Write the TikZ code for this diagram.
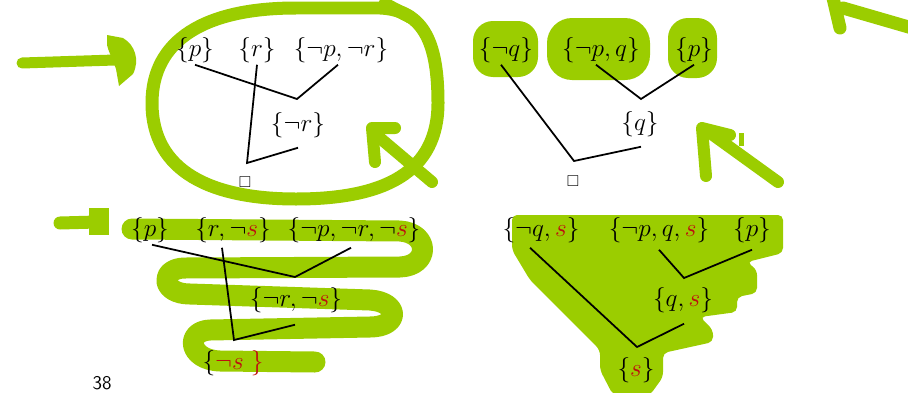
\documentclass[tikz,border=0pt]{standalone}
\usepackage{amssymb}
\usetikzlibrary{positioning,calc}
\definecolor{MarkerGreen}{RGB}{155,205,0}
\definecolor{LitRed}{RGB}{190,15,15}
\newcommand{\rs}{\textcolor{LitRed}{s}}

\begin{document}
\begin{tikzpicture}[x=0.02cm, y=-0.02cm,
  every node/.style={font=\fontsize{15}{18}\selectfont, inner sep=1pt},
  marker/.style={draw=MarkerGreen, line cap=round, line join=round, line width=0.26cm},
  blob/.style={fill=MarkerGreen, rounded corners=0.4cm},
  res/.style={line width=1pt},
  emptybox/.style={font=\fontsize{9}{10}\selectfont}]
  \useasboundingbox (0,0) rectangle (908,392);

  % highlighter marks
  \draw[marker] (296,8) .. controls (205,8) and (152,40) .. (152,103) .. controls (152,172) and (212,199) .. (296,199)
    .. controls (385,199) and (438,172) .. (438,103) .. controls (438,45) and (425,10) .. (380,8) -- cycle;
  \draw[marker] (385,4) -- (410,17);
  \draw[marker, line width=0.22cm] (22,63) -- (115,60);
  \fill[MarkerGreen] (107,35) -- (123,38) .. controls (135,45) and (140,60) .. (133,74) -- (119,86) -- (116,69)
    .. controls (112,58) and (108,50) .. (107,45) -- cycle;
  \draw[marker, line width=0.24cm] (432,182) -- (374,133);
  \draw[marker, line width=0.24cm] (395,128) -- (372,128) -- (375,162);
  \draw[marker, line width=0.24cm] (778,182) -- (706,130);
  \draw[marker, line width=0.24cm] (730,135) -- (702,128) -- (706,176);
  \draw[marker, line width=0.1cm, line cap=butt] (741,133) -- (741,146);
  \draw[marker] (912,28) -- (843,8);
  \draw[marker] (833,-2) -- (840,28);
  \draw[marker] (60,223) -- (97,222);
  \draw[marker, line width=0.4cm, line cap=butt] (99,208) -- (99,235);
  \fill[blob] (473,21) rectangle (538,77);
  \fill[blob, rounded corners=0.5cm] (547,18) rectangle (650,80);
  \fill[blob] (668,18) rectangle (717,78);
  \draw[marker, line width=0.42cm] (132,229) -- (400,231) .. controls (430,233) and (430,266) .. (400,267)
    -- (185,268) .. controls (160,268) and (160,294) .. (190,294) -- (370,300)
    .. controls (400,302) and (400,327) .. (370,327) -- (210,330)
    .. controls (185,331) and (188,360) .. (220,361) -- (315,362);
  \fill[MarkerGreen, rounded corners=0.1cm] (512,215) -- (783,215) -- (783,253) -- (747,262) -- (757,270) -- (757,293)
    -- (737,297) -- (737,312) -- (700,317) -- (713,330) -- (713,342) -- (663,353) -- (663,377) -- (650,395)
    -- (613,395) -- (600,370) -- (600,350) -- (530,280) -- (512,250) -- cycle;

  % first refutation
  \node (tlP) at (195,50) {$\{p\}$};
  \node (tlR) at (257,50) {$\{r\}$};
  \node (tlNPR) at (341,50) {$\{\neg p,\neg r\}$};
  \coordinate (tlJa) at (297,99);
  \node (tlNR) at (298,125) {$\{\neg r\}$};
  \coordinate (tlJb) at (247,163);
  \node[emptybox] (tlBox) at (245,182) {$\square$};
  \draw[res] (tlP.south) -- (tlJa) -- ($(tlNPR.south)+(-3,0)$);
  \draw[res] (tlR.south) -- (tlJb) -- ($(tlNR.south)+(0,8)$);

  % second refutation
  \node (trNQ) at (506,50) {$\{\neg q\}$};
  \node (trNPQ) at (601,50) {$\{\neg p,q\}$};
  \node (trP) at (694,50) {$\{p\}$};
  \coordinate (trJa) at (641,99);
  \node (trQ) at (640,124) {$\{q\}$};
  \coordinate (trJb) at (574,161);
  \node[emptybox] (trBox) at (573,181) {$\square$};
  \draw[res] ($(trNQ.south)+(-5,0)$) -- (trJb) -- ($(trQ.south)+(1,8)$);
  \draw[res] ($(trNPQ.south)+(-5,0)$) -- (trJa) -- (trP.south);

  % first one with s added
  \node (blP) at (150,230) {$\{p\}$};
  \node (blRS) at (233,230) {$\{r,\neg\rs\}$};
  \node (blNPRS) at (354,230) {$\{\neg p,\neg r,\neg\rs\}$};
  \coordinate (blJa) at (295,277);
  \node (blNRS) at (296,300) {$\{\neg r,\neg\rs\}$};
  \coordinate (blJb) at (234,340);
  \node (blNS) at (233,363) {$\{\textcolor{LitRed}{\neg s\;\}}$};
  \draw[res] ($(blP.south)+(2,0)$) -- (blJa) -- ($(blNPRS.south)+(-3,3)$);
  \draw[res] ($(blRS.south)+(-11,3)$) -- (blJb) -- ($(blNRS.south)+(-1,10)$);

  % second one with s added
  \node (brNQS) at (541,230) {$\{\neg q,\rs\}$};
  \node (brNPQS) at (659,230) {$\{\neg p,q,\rs\}$};
  \node (brP) at (752,230) {$\{p\}$};
  \coordinate (brJa) at (684,278);
  \node (brQS) at (683,300) {$\{q,\rs\}$};
  \coordinate (brJb) at (637,347);
  \node (brS) at (636,370) {$\{\rs\}$};
  \draw[res] ($(brNQS.south)+(-11,3)$) -- (brJb) -- ($(brQS.south)+(1,9)$);
  \draw[res] ($(brNPQS.south)+(0,5)$) -- (brJa) -- ($(brP.south)+(0,5)$);

  \node[font=\sffamily\fontsize{11}{13}\selectfont] (pageNo) at (102,383) {38};
\end{tikzpicture}
\end{document}
